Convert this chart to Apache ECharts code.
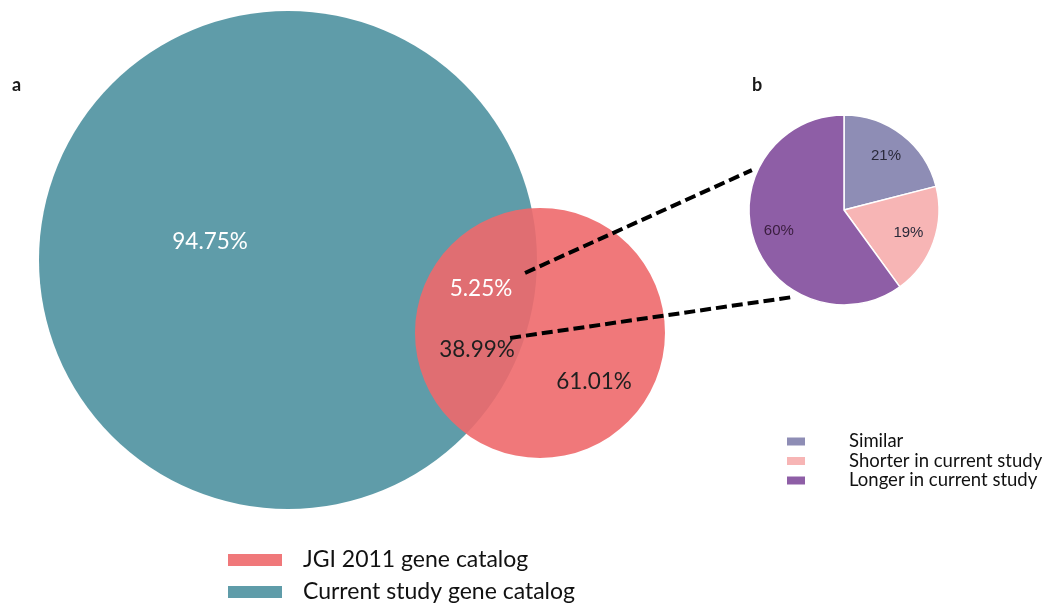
<!DOCTYPE html>
<html>
<head>
<meta charset="utf-8">
<script src="https://cdn.jsdelivr.net/npm/echarts@6/dist/echarts.min.js"></script>
<style>
  html, body { margin: 0; padding: 0; background: #ffffff; }
  #chart { width: 1047px; height: 605px; }
</style>
</head>
<body>
<div id="chart"></div>
<script>
// ---- data ----
const vennSets = ['Current study gene catalog', 'JGI 2011 gene catalog'];
const vennColors = ['#5f9ca9', '#ee696b'];
// share of each catalog: [unique, shared]
const currentShares = [94.75, 5.25];
const jgiShares = [61.01, 38.99];

const pieCategories = ['Similar', 'Shorter in current study', 'Longer in current study'];
const pieValues = [21, 19, 60];
const pieColors = ['#8e8db5', '#f7b5b5', '#8e5ea6'];

// ---- layout (unit space: big circle radius = 1) ----
const circleLayout = [
  { cx: 0, cy: 0, r: 1 },              // current study
  { cx: 1.012, cy: -0.293, r: 0.502 }  // JGI 2011
];
const vennLabelLayout = [
  { x: -0.313, y: 0.072, value: currentShares[0], color: '#ffffff' },
  { x: 0.775, y: -0.116, value: currentShares[1], color: '#ffffff' },
  { x: 0.759, y: -0.361, value: jgiShares[1], color: '#1f1f1f' },
  { x: 1.229, y: -0.490, value: jgiShares[0], color: '#1f1f1f' }
];
const connectorLayout = [
  [[0.952, -0.052], [1.863, 0.361]],
  [[0.892, -0.313], [2.024, -0.149]]
];

const FONT = 'Lato, "Open Sans", sans-serif';

function circleSeries(idx, z) {
  const c = circleLayout[idx];
  return {
    type: 'custom',
    name: vennSets[idx],
    coordinateSystem: 'cartesian2d',
    itemStyle: { color: idx === 1 ? '#f0787a' : vennColors[idx] },
    z: z,
    silent: true,
    data: [[c.cx, c.cy, c.r]],
    renderItem: function (params, api) {
      const p = api.coord([api.value(0), api.value(1)]);
      const r = api.size([api.value(2), 0])[0];
      return {
        type: 'circle',
        shape: { cx: p[0], cy: p[1], r: r },
        style: { fill: vennColors[idx], opacity: idx === 1 ? 0.9 : 1 }
      };
    }
  };
}

const chart = echarts.init(document.getElementById('chart'), null, { renderer: 'canvas' });

chart.setOption({
  animation: false,
  backgroundColor: '#ffffff',
  title: [
    { text: 'a', left: 7, top: 71, textStyle: { fontFamily: FONT, fontWeight: 'bold', fontSize: 18, color: '#1a1a1a' } },
    { text: 'b', left: 747, top: 71, textStyle: { fontFamily: FONT, fontWeight: 'bold', fontSize: 18, color: '#1a1a1a' } }
  ],
  grid: { left: 39, top: 11, width: 996, height: 547.8, show: false },
  xAxis: { type: 'value', min: -1, max: 3, show: false },
  yAxis: { type: 'value', min: -1.2, max: 1, show: false },
  legend: [
    {
      data: [vennSets[1], vennSets[0]],
      orient: 'vertical',
      left: 228,
      top: 548,
      padding: 0,
      height: 57,
      icon: 'rect',
      itemWidth: 54,
      itemHeight: 12,
      itemGap: 8,
      textStyle: { fontFamily: FONT, fontSize: 23, color: '#111111', lineHeight: 24, padding: [0, 0, 0, 16] }
    },
    {
      data: pieCategories,
      orient: 'vertical',
      left: 785,
      top: 432,
      padding: 0,
      icon: 'rect',
      itemWidth: 20,
      itemHeight: 10,
      itemGap: 0.5,
      textStyle: { fontFamily: FONT, fontSize: 18.5, color: '#111111', lineHeight: 18, padding: [0, 0, 0, 38] }
    }
  ],
  series: [
    circleSeries(0, 1),
    circleSeries(1, 2),
    {
      type: 'custom',
      coordinateSystem: 'cartesian2d',
      z: 3,
      silent: true,
      data: vennLabelLayout.map(d => [d.x, d.y, d.value]),
      renderItem: function (params, api) {
        const p = api.coord([api.value(0), api.value(1)]);
        const d = vennLabelLayout[params.dataIndex];
        return {
          type: 'text',
          x: p[0], y: p[1],
          style: {
            text: api.value(2).toFixed(2) + '%',
            fill: d.color,
            font: '22.5px ' + FONT,
            align: 'center',
            verticalAlign: 'middle'
          }
        };
      }
    },
    {
      type: 'lines',
      coordinateSystem: 'cartesian2d',
      z: 4,
      silent: true,
      polyline: false,
      lineStyle: { color: '#000000', width: 4, type: [11, 5], opacity: 1, curveness: 0 },
      data: connectorLayout.map(c => ({ coords: c }))
    },
    {
      type: 'pie',
      center: [844, 210],
      radius: 95,
      startAngle: 90,
      clockwise: true,
      z: 5,
      silent: true,
      itemStyle: { borderColor: '#ffffff', borderWidth: 1.5 },
      label: { show: false },
      labelLine: { show: false },
      data: pieCategories.map((n, i) => ({ name: n, value: pieValues[i], itemStyle: { color: pieColors[i] } }))
    },
    {
      // label ring placed toward the outer part of each slice
      type: 'pie',
      center: [844, 210],
      radius: [36, 95],
      startAngle: 90,
      clockwise: true,
      z: 6,
      silent: true,
      itemStyle: { color: 'rgba(0,0,0,0)', borderWidth: 0 },
      label: {
        show: true,
        position: 'inside',
        formatter: p => p.value + '%',
        fontFamily: 'Liberation Sans, Arial, sans-serif',
        fontSize: 15,
        color: '#2a2a3a'
      },
      labelLine: { show: false },
      legendHoverLink: false,
      data: pieCategories.map((n, i) => ({
        name: n + ' ',
        value: pieValues[i],
        label: i === 2 ? { color: '#3a1d3e' } : {}
      }))
    }
  ]
});
</script>
</body>
</html>
